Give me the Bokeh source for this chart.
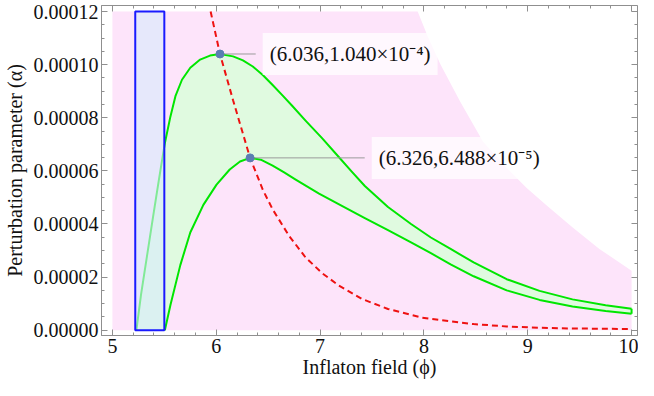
import math
from bokeh.plotting import figure
from bokeh.models import Range1d, FixedTicker, LinearAxis, PrintfTickFormatter, Label, CustomJSTickFormatter
from bokeh.embed import file_html
from bokeh.resources import INLINE

SCALE = 1e-5  # alpha values below are given in units of 1e-5

# upper green boundary curve
upper_phi = [5.231, 5.276, 5.333, 5.390, 5.448, 5.505, 5.559, 5.607, 5.670, 5.750, 5.845,
             5.940, 6.036, 6.162, 6.257, 6.352, 6.448, 6.543, 6.638, 6.733, 6.860, 7.019,
             7.178, 7.305, 7.431, 7.654, 7.876, 8.067, 8.257, 8.479, 8.797, 9.114, 9.431,
             9.750, 10.0]
upper_alpha = [0.0, 1.35, 2.79, 4.23, 5.67, 7.04, 8.05, 8.81, 9.43, 9.88, 10.19,
               10.34, 10.40, 10.31, 10.16, 9.93, 9.61, 9.23, 8.84, 8.44, 7.89, 7.23,
               6.53, 5.97, 5.43, 4.64, 4.00, 3.49, 3.06, 2.55, 1.92, 1.48, 1.16,
               0.94, 0.81]

# lower green boundary curve
lower_phi = [5.505, 5.559, 5.654, 5.750, 5.876, 6.003, 6.130, 6.229, 6.326, 6.429, 6.543,
             6.654, 6.765, 6.990, 7.210, 7.431, 7.654, 7.876, 8.067, 8.257, 8.479, 8.797,
             9.114, 9.431, 9.750, 10.0]
lower_alpha = [0.0, 0.95, 2.45, 3.68, 4.72, 5.48, 6.05, 6.35, 6.488, 6.42, 6.20,
               5.94, 5.67, 5.14, 4.68, 4.22, 3.77, 3.31, 2.90, 2.48, 2.03, 1.50,
               1.14, 0.89, 0.72, 0.62]

# red dashed curve
red_phi = [5.946, 6.036, 6.162, 6.326, 6.448, 6.543, 6.702, 6.860, 7.019, 7.178, 7.400,
           7.654, 7.971, 8.257, 8.479, 8.797, 9.114, 9.431, 10.0]
red_alpha = [12.0, 10.40, 8.66, 6.488, 5.29, 4.55, 3.55, 2.74, 2.15, 1.69, 1.18,
             0.80, 0.48, 0.33, 0.23, 0.14, 0.09, 0.064, 0.045]

# pink allowed region: phi in [5, 10], alpha in [0, 12e-5], cut by upper-right boundary
region_phi_min, region_phi_max, region_alpha_max = 5.0, 10.0, 12.0
cut_phi = [7.94, 8.035, 8.16, 8.35, 8.57, 8.80, 8.99, 9.18, 9.43, 9.69, 10.0]
cut_alpha = [12.0, 11.08, 10.0, 8.6, 7.1, 6.1, 5.35, 4.7, 3.88, 3.06, 2.24]

# blue rectangle
rect_phi = [5.22, 5.50]
rect_alpha = [0.0, 12.0]

# marked intersection points
mark_phi = [6.036, 6.326]
mark_alpha = [10.40, 6.488]

x_ticks = [5, 6, 7, 8, 9, 10]
y_ticks = [0, 2, 4, 6, 8, 10, 12]

# ---- layout / style constants ----
X_LO, X_HI = 4.895, 10.057
Y_LO, Y_HI = -2.0e-6, 1.2226e-4
LABEL_BOX_LEFT = [6.38, 7.43]   # where each annotation box starts (data x)
FONT = "Liberation Serif"
FRAME = "#8f8f8f"
PAD = 7


def sup(s):
    table = str.maketrans("-0123456789", "⁻⁰¹²³⁴⁵⁶⁷⁸⁹")
    return s.translate(table)


def sci(v):
    e = math.floor(math.log10(v))
    m = v / 10 ** e
    return f"{m:.3f}×10{sup(str(e))}"


ua = [a * SCALE for a in upper_alpha]
la = [a * SCALE for a in lower_alpha]
ra = [a * SCALE for a in red_alpha]

p = figure(width=638, height=380, output_backend="svg", toolbar_location=None,
           x_range=Range1d(X_LO, X_HI), y_range=Range1d(Y_LO, Y_HI),
           min_border_left=96, min_border_right=1, min_border_top=5, min_border_bottom=45,
           background_fill_color="white", border_fill_color="white")
p.xgrid.visible = False
p.ygrid.visible = False
p.outline_line_color = FRAME

# pink region
pk_x = [region_phi_min, region_phi_max] + cut_phi[::-1] + [region_phi_min]
pk_y = [0.0, 0.0] + [a * SCALE for a in cut_alpha[::-1]] + [region_alpha_max * SCALE]
p.patch(pk_x, pk_y, fill_color="#fde4fa", line_color=None)

# green band
gx = upper_phi + lower_phi[::-1] + [upper_phi[0]]
gy = ua + la[::-1] + [0.0]
p.patch(gx, gy, fill_color="#e0fae0", line_color=None)
GREEN = "#00e600"
p.line(upper_phi, ua, line_color=GREEN, line_width=2, line_join="round")
p.line(lower_phi, la, line_color=GREEN, line_width=2, line_join="round")
p.line([upper_phi[-1], lower_phi[-1]], [ua[-1], la[-1]], line_color=GREEN, line_width=2)

# red dashed
p.line(red_phi, ra, line_color="#ee1111", line_width=2, line_dash="6 4")

# blue rectangle
p.quad(left=rect_phi[0], right=rect_phi[1], bottom=rect_alpha[0] * SCALE, top=rect_alpha[1] * SCALE,
       fill_color="#d7ebfc", fill_alpha=0.6, line_color="#1a1aff", line_width=2)

# leader lines, points, labels
ma = [a * SCALE for a in mark_alpha]
p.segment(x0=mark_phi, y0=ma, x1=LABEL_BOX_LEFT, y1=ma, line_color="#9a9a9a", line_width=1)
p.scatter(mark_phi, ma, size=8, fill_color="#5b7db3", line_color="#5b7db3")
for x, a, bx in zip(mark_phi, mark_alpha, LABEL_BOX_LEFT):
    txt = f"({x:.3f},{sci(a * SCALE)})"
    p.add_layout(Label(x=bx, y=a * SCALE, x_offset=PAD, text=txt, text_font=FONT,
                       text_font_size="21px", text_baseline="middle", text_align="left",
                       text_color="#111111", background_fill_color="white",
                       background_fill_alpha=0.75, padding=(PAD, 9)))

xt = FixedTicker(ticks=x_ticks, minor_ticks=[5 + 0.2 * i for i in range(-1, 27)])
yt = FixedTicker(ticks=[t * SCALE for t in y_ticks],
                 minor_ticks=[i * 0.5 * SCALE for i in range(-1, 26)])


def style(ax, labels=True):
    ax.axis_line_color = FRAME
    ax.major_tick_line_color = FRAME
    ax.minor_tick_line_color = FRAME
    ax.major_tick_in = 6
    ax.major_tick_out = 0
    ax.minor_tick_in = 3
    ax.minor_tick_out = 0
    ax.major_label_text_font = FONT
    ax.axis_label_text_font = FONT
    ax.axis_label_text_font_style = "normal"
    ax.axis_label_text_font_size = "20px"
    ax.axis_label_text_color = "#111111"
    if labels:
        ax.major_label_text_font_size = "20px"
        ax.major_label_text_color = "#111111"
    else:
        ax.formatter = CustomJSTickFormatter(code="return ''")
        ax.major_label_text_font_size = "1px"
        ax.major_label_text_color = None
        ax.major_label_text_alpha = 0
        ax.major_label_standoff = 0
        ax.axis_label_standoff = 0


xa = p.xaxis[0]
xa.ticker = xt
xa.axis_label = "Inflaton field (ϕ)"
style(xa)
xa.major_label_standoff = 3
xa.axis_label_standoff = 0

ya = p.yaxis[0]
ya.ticker = yt
ya.formatter = PrintfTickFormatter(format="%.5f")
ya.axis_label = "Perturbation parameter (α)"
style(ya)
ya.major_label_standoff = 3
ya.axis_label_standoff = 5

# frame ticks on the top and right edges (no labels, no reserved space)
top = LinearAxis(ticker=FixedTicker(ticks=x_ticks, minor_ticks=xt.minor_ticks),
                 fixed_location=Y_HI)
style(top, labels=False)
p.add_layout(top, "above")
right = LinearAxis(ticker=FixedTicker(ticks=yt.ticks, minor_ticks=yt.minor_ticks),
                   fixed_location=X_HI)
style(right, labels=False)
p.add_layout(right, "right")

open("out.html", "w").write(file_html(p, INLINE))
